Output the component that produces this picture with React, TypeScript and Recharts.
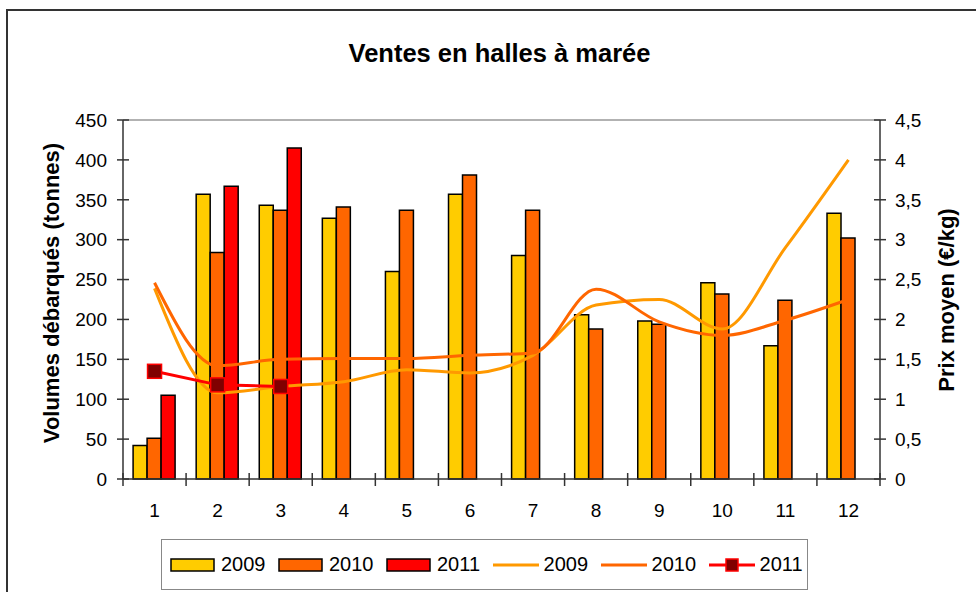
import React from "react";
import {
  ComposedChart,
  Bar,
  Line,
  XAxis,
  YAxis,
  ReferenceLine,
} from "recharts";

const months = ["1", "2", "3", "4", "5", "6", "7", "8", "9", "10", "11", "12"];

// volumes (tonnes)
const vol2009 = [42, 357, 343, 327, 260, 357, 280, 206, 198, 246, 167, 333];
const vol2010 = [51, 284, 337, 341, 337, 381, 337, 188, 194, 232, 224, 302];
const vol2011 = [105, 367, 415, null, null, null, null, null, null, null, null, null];

// prix moyen (€/kg)
const prix2009 = [2.39, 1.08, 1.16, 1.22, 1.37, 1.33, 1.55, 2.18, 2.25, 1.88, 2.9, 4.0];
const prix2010 = [2.46, 1.42, 1.5, 1.51, 1.51, 1.55, 1.58, 2.38, 1.97, 1.8, 1.99, 2.25];
const prix2011 = [1.35, 1.18, 1.16, null, null, null, null, null, null, null, null, null];

const volTicks = [0, 50, 100, 150, 200, 250, 300, 350, 400, 450];
const prixTicks = [0, 0.5, 1, 1.5, 2, 2.5, 3, 3.5, 4, 4.5];

const YELLOW = "#FFCC00";
const ORANGE = "#FF6600";
const RED = "#FF0000";
const LINE09 = "#FF9900";
const LINE10 = "#FF6600";
const MARKER = "#800000";
const AXIS = "#333";

const FONT = "'Liberation Sans', Arial, sans-serif";
const TICK_FS = 19;

const data = months.map((m, i) => ({
  month: m,
  v2009: vol2009[i],
  v2010: vol2010[i],
  v2011: vol2011[i],
  p2009: prix2009[i],
  p2010: prix2010[i],
  p2011: prix2011[i],
}));

// x ticks: label in the middle, tick marks at the category boundaries (crossing the axis)
function XTick(props: any) {
  const { x, y, payload, index, visibleTicksCount } = props;
  const half = payload && payload.offset ? payload.offset : 31.5;
  const axisY = y - 25; // tickSize 6 + tickMargin 19
  const last = index === visibleTicksCount - 1;
  return (
    <g>
      <line x1={x - half} x2={x - half} y1={axisY - 6} y2={axisY + 7} stroke={AXIS} strokeWidth={1.5} />
      {last && <line x1={x + half} x2={x + half} y1={axisY - 6} y2={axisY + 7} stroke={AXIS} strokeWidth={1.5} />}
      <text x={x} y={y} dy="0.71em" textAnchor="middle" fontSize={TICK_FS} fontFamily={FONT} fill="#000">
        {payload.value}
      </text>
    </g>
  );
}

function LeftTick(props: any) {
  const { x, y, payload } = props;
  const axisX = x + 16;
  return (
    <g>
      <line x1={axisX - 6} x2={axisX + 6} y1={y} y2={y} stroke={AXIS} strokeWidth={1.5} />
      <text x={x} y={y} dy="0.355em" textAnchor="end" fontSize={TICK_FS} fontFamily={FONT} fill="#000">
        {payload.value}
      </text>
    </g>
  );
}

function RightTick(props: any) {
  const { x, y, payload } = props;
  const axisX = x - 15;
  return (
    <g>
      <line x1={axisX - 6} x2={axisX + 6} y1={y} y2={y} stroke={AXIS} strokeWidth={1.5} />
      <text x={x} y={y} dy="0.355em" textAnchor="start" fontSize={TICK_FS} fontFamily={FONT} fill="#000">
        {String(payload.value).replace(".", ",")}
      </text>
    </g>
  );
}

function SquareDot(props: any) {
  const { cx, cy, index } = props;
  if (cx == null || cy == null || props.value == null) return <g key={`d-${index}`} />;
  return (
    <rect
      key={`d-${index}`}
      x={cx - 7}
      y={cy - 7}
      width={14}
      height={14}
      fill={MARKER}
      stroke={RED}
      strokeWidth={1.5}
    />
  );
}

function LegendBox() {
  const items = [
    { label: "2009", kind: "bar", color: YELLOW },
    { label: "2010", kind: "bar", color: ORANGE },
    { label: "2011", kind: "bar", color: RED },
    { label: "2009", kind: "line", color: LINE09 },
    { label: "2010", kind: "line", color: LINE10 },
    { label: "2011", kind: "marker", color: RED },
  ];
  return (
    <div
      style={{
        position: "absolute",
        left: 161,
        top: 539,
        width: 647,
        height: 51,
        border: "1px solid #888",
        display: "flex",
        alignItems: "center",
        paddingLeft: 8,
        boxSizing: "border-box",
        fontFamily: FONT,
        fontSize: 20,
        color: "#000",
      }}
    >
      {items.map((it, i) => (
        <div key={i} style={{ display: "flex", alignItems: "center", marginRight: 12.5 }}>
          <svg width={46} height={16} style={{ marginRight: 5 }}>
            {it.kind === "bar" && (
              <rect x={1} y={2} width={43} height={12} fill={it.color} stroke="#000" strokeWidth={1.5} />
            )}
            {it.kind === "line" && <line x1={0} x2={46} y1={8} y2={8} stroke={it.color} strokeWidth={3} />}
            {it.kind === "marker" && (
              <>
                <line x1={0} x2={46} y1={8} y2={8} stroke={it.color} strokeWidth={3} />
                <rect x={17} y={2} width={12} height={12} fill={MARKER} stroke={RED} strokeWidth={1.5} />
              </>
            )}
          </svg>
          <span>{it.label}</span>
        </div>
      ))}
    </div>
  );
}

export default function App() {
  return (
    <div
      style={{
        position: "absolute",
        left: 0,
        top: 0,
        width: 976,
        height: 592,
        overflow: "hidden",
        background: "#fff",
        fontFamily: FONT,
      }}
    >
      {/* chart frame, cut off on the right and bottom */}
      <div
        style={{
          position: "absolute",
          left: 6,
          top: 9,
          width: 1000,
          height: 620,
          borderTop: "2px solid #333",
          borderLeft: "2px solid #333",
        }}
      />
      <div
        style={{
          position: "absolute",
          left: 0,
          top: 38,
          width: 999,
          textAlign: "center",
          fontSize: 25.5,
          fontWeight: "bold",
          lineHeight: "30px",
        }}
      >
        Ventes en halles à marée
      </div>
      <div
        style={{
          position: "absolute",
          left: 52,
          top: 293,
          transform: "translate(-50%, -50%) rotate(-90deg)",
          whiteSpace: "nowrap",
          fontSize: 22,
          fontWeight: "bold",
        }}
      >
        Volumes débarqués (tonnes)
      </div>
      <div
        style={{
          position: "absolute",
          left: 947,
          top: 300,
          transform: "translate(-50%, -50%) rotate(-90deg)",
          whiteSpace: "nowrap",
          fontSize: 22,
          fontWeight: "bold",
        }}
      >
        Prix moyen (€/kg)
      </div>

      <div style={{ position: "absolute", left: 0, top: 0 }}>
        <ComposedChart
          width={976}
          height={592}
          data={data}
          margin={{ top: 120, right: 36, bottom: 83, left: 63 }}
          barCategoryGap="16%"
          barGap={0}
        >
          <XAxis
            dataKey="month"
            height={30}
            axisLine={{ stroke: AXIS, strokeWidth: 1.5 }}
            tickLine={false}
            tickSize={6}
            tickMargin={19}
            tick={<XTick />}
            interval={0}
          />
          <YAxis
            yAxisId="vol"
            orientation="left"
            width={60}
            domain={[0, 450]}
            ticks={volTicks}
            tick={<LeftTick />}
            tickSize={6}
            tickMargin={10}
            axisLine={{ stroke: AXIS, strokeWidth: 1.5 }}
            tickLine={false}
          />
          <YAxis
            yAxisId="prix"
            orientation="right"
            width={60}
            domain={[0, 4.5]}
            ticks={prixTicks}
            tick={<RightTick />}
            tickSize={6}
            tickMargin={9}
            axisLine={{ stroke: AXIS, strokeWidth: 1.5 }}
            tickLine={false}
          />
          <ReferenceLine yAxisId="vol" y={450} stroke="#999" strokeWidth={1.5} />

          <Bar yAxisId="vol" dataKey="v2009" fill={YELLOW} stroke="#000" strokeWidth={1.5} isAnimationActive={false} />
          <Bar yAxisId="vol" dataKey="v2010" fill={ORANGE} stroke="#000" strokeWidth={1.5} isAnimationActive={false} />
          <Bar yAxisId="vol" dataKey="v2011" fill={RED} stroke="#000" strokeWidth={1.5} isAnimationActive={false} />

          <Line yAxisId="prix" type="monotone" dataKey="p2009" stroke={LINE09} strokeWidth={3} dot={false} isAnimationActive={false} />
          <Line yAxisId="prix" type="monotone" dataKey="p2010" stroke={LINE10} strokeWidth={3} dot={false} isAnimationActive={false} />
          <Line yAxisId="prix" type="linear" dataKey="p2011" stroke={RED} strokeWidth={3} dot={SquareDot} isAnimationActive={false} />
        </ComposedChart>
      </div>

      <LegendBox />
    </div>
  );
}
